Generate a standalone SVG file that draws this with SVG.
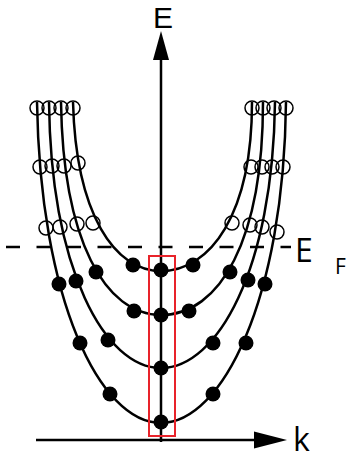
<svg xmlns="http://www.w3.org/2000/svg" width="347" height="460" viewBox="0 0 347 460">
<style>
.ax{stroke:#000;stroke-width:2.5;fill:none}
.cv{stroke:#000;stroke-width:2.5;fill:none}
.dot{fill:#000}
.oc{fill:none;stroke:#000;stroke-width:1.5}
.lbl{font-family:"Open Sans","Liberation Sans",sans-serif;fill:#000}
</style>
<rect width="347" height="460" fill="#fff"/>
<g id="connectors">
<line class="ax" x1="161" y1="442" x2="161" y2="58"/>
<polygon points="153,60 169,60 161,31" fill="#000"/>
<line class="ax" x1="36" y1="440" x2="256" y2="440"/>
<polygon points="254,431.5 254,448.5 287,440" fill="#000"/>
<line class="ax" x1="4" y1="247" x2="291" y2="247" stroke-dasharray="14 16.5" stroke-dashoffset="-2"/>
</g>
<g id="bandA">
<path class="cv" d="M73,102 C76,215 115,271 161,271 C210,271 252,215 252,102"/>
</g>
<g id="bandB">
<path class="cv" d="M61,102 C63,240 105,315 161,315 C220,315 263,240 263,102"/>
</g>
<g id="bandC">
<path class="cv" d="M49,102 C51,270 105,368 161,368 C217,368 273,270 275,102"/>
</g>
<g id="bandD">
<path class="cv" d="M37,102 C40,300 100,423 161,423 C222,423 284,300 286,102"/>
</g>
<g id="filled">
<circle class="dot" cx="161" cy="270" r="7.5"/>
<circle class="dot" cx="133" cy="265" r="7.5"/>
<circle class="dot" cx="193" cy="265" r="7.5"/>
<circle class="dot" cx="161" cy="315" r="7.5"/>
<circle class="dot" cx="134" cy="311" r="7.5"/>
<circle class="dot" cx="189" cy="311" r="7.5"/>
<circle class="dot" cx="96" cy="272" r="7.5"/>
<circle class="dot" cx="230" cy="272" r="7.5"/>
<circle class="dot" cx="161" cy="368" r="7.5"/>
<circle class="dot" cx="108" cy="340" r="7.5"/>
<circle class="dot" cx="213" cy="343" r="7.5"/>
<circle class="dot" cx="76" cy="281" r="7.5"/>
<circle class="dot" cx="248" cy="280" r="7.5"/>
<circle class="dot" cx="161" cy="422" r="7.5"/>
<circle class="dot" cx="110" cy="394" r="7.5"/>
<circle class="dot" cx="213" cy="394" r="7.5"/>
<circle class="dot" cx="80" cy="343" r="7.5"/>
<circle class="dot" cx="246" cy="343" r="7.5"/>
<circle class="dot" cx="59" cy="284" r="7.5"/>
<circle class="dot" cx="265" cy="284" r="7.5"/>
</g>
<g id="empty">
<circle class="oc" cx="37" cy="108" r="7"/>
<circle class="oc" cx="49" cy="108" r="7"/>
<circle class="oc" cx="61" cy="108" r="7"/>
<circle class="oc" cx="73" cy="108" r="7"/>
<circle class="oc" cx="252" cy="108" r="7"/>
<circle class="oc" cx="263" cy="108" r="7"/>
<circle class="oc" cx="274" cy="108" r="7"/>
<circle class="oc" cx="286" cy="108" r="7"/>
<circle class="oc" cx="40" cy="167" r="7"/>
<circle class="oc" cx="52" cy="166" r="7"/>
<circle class="oc" cx="64" cy="166" r="7"/>
<circle class="oc" cx="78" cy="163" r="7"/>
<circle class="oc" cx="251" cy="167" r="7"/>
<circle class="oc" cx="262" cy="167" r="7"/>
<circle class="oc" cx="272" cy="167" r="7"/>
<circle class="oc" cx="283" cy="167" r="7"/>
<circle class="oc" cx="46" cy="228" r="7"/>
<circle class="oc" cx="60" cy="227" r="7"/>
<circle class="oc" cx="77" cy="224" r="7"/>
<circle class="oc" cx="93" cy="223" r="7"/>
<circle class="oc" cx="232" cy="223" r="7"/>
<circle class="oc" cx="250" cy="225" r="7"/>
<circle class="oc" cx="262" cy="227" r="7"/>
<circle class="oc" cx="277" cy="232" r="7"/>
</g>
<g id="window">
<rect x="149" y="256" width="26" height="180" fill="none" stroke="#e8232a" stroke-width="2"/>
</g>
<g id="labels">
<text x="153" y="28" font-size="30" font-family="'Liberation Sans', sans-serif" fill="#000">E</text>
<text class="lbl" x="293" y="451" font-size="32">k</text>
<text class="lbl" x="295" y="262" font-size="32">E</text>
<text class="lbl" x="335" y="274" font-size="21">F</text>
</g>
</svg>
